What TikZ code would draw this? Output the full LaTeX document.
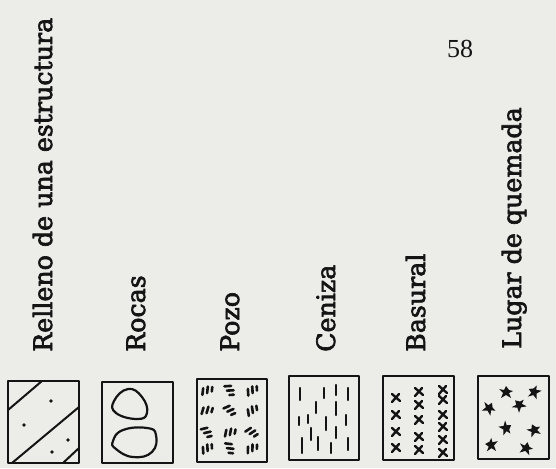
\documentclass[tikz,border=0pt]{standalone}
\usepackage{fontspec}
\setmainfont{DejaVu Serif}[FakeBold=2.6]
\newfontfamily\numfont{Liberation Serif}
\usetikzlibrary{calc}
\definecolor{paper}{RGB}{236,236,233}
\definecolor{ink}{RGB}{20,20,20}

\begin{document}
\begin{tikzpicture}[x=1pt, y=-1pt, line join=round, line cap=round,
  legbox/.style={draw=ink, line width=2.4pt},
  hatch/.style={draw=ink, line width=2pt},
  lbl/.style={rotate=90, anchor=base west, inner sep=0pt, font=\fontsize{25.3}{30}\selectfont, text=ink}]
  % paper
  \fill[paper] (0,0) rectangle (556,468);
  \useasboundingbox (0,0) rectangle (556,468);

  % labels
  \node[lbl] (lrell) at (52,352) {Relleno de una estructura};
  \node[lbl] (lroc) at (145,352) {Rocas};
  \node[lbl] (lpozo) at (239,352) {Pozo};
  \node[lbl] (lcen) at (335,352) {Ceniza};
  \node[lbl] (lbas) at (425,352) {Basural};
  \node[lbl] (llug) at (521,349) {Lugar de quemada};
  \node[font=\numfont\fontsize{26}{30}\selectfont, text=ink, inner sep=0pt] (pnum) at (460,49) {58};

  % relleno
  \begin{scope}[shift={(8,381)}]
    \draw[legbox] (0,0) rectangle (71,82);
    \draw[hatch] (0,29) -- (34,0) (4,82) -- (71,26) (55,82) -- (71,67);
    \foreach \x/\y in {43/20, 16/44, 60/59, 44/71}
      \fill[ink] (\x,\y) circle (1.8);
  \end{scope}

  % rocas
  \begin{scope}[shift={(102,382)}]
    \draw[legbox] (0,0) rectangle (71,81);
    \draw[hatch, line width=2.2pt] plot[smooth cycle, tension=0.8] coordinates {(26,7) (12,19) (14,31) (35,37) (45,31) (40,15)};
    \draw[hatch, line width=2.2pt] plot[smooth cycle, tension=0.8] coordinates {(11,59) (21,48) (45,46) (54,53) (50,70) (31,75) (14,67)};
  \end{scope}

  % pozo
  \begin{scope}[shift={(197,379)}]
    \draw[legbox] (0,0) rectangle (70,83);
    \foreach \x/\y/\a in {10/11/20, 33/11/-60, 55/11/30, 10/31/10, 33/31/-40, 55/31/35,
                          10/53/-50, 33/53/15, 55/53/-30, 10/69/30, 33/69/-70, 55/69/25} {
      \begin{scope}[shift={(\x,\y)}, rotate=\a]
        \draw[hatch, line width=2.6pt] (-6,3) -- (-3,-3) (-1,3) -- (2,-3) (4,3) -- (6,-1);
      \end{scope}
    }
  \end{scope}

  % ceniza
  \begin{scope}[shift={(289,376)}]
    \draw[legbox] (0,0) rectangle (70,84);
    \foreach \x/\ya/\yb in {11/12/24, 35/12/22, 47/9/19, 59/12/24, 27/26/37, 47/26/39,
                            10/41/49, 19/39/47, 37/41/54, 57/39/49, 22/52/64, 47/51/62,
                            13/62/77, 29/61/74, 42/67/77, 59/62/74}
      \draw[hatch, line width=2.2pt] (\x,\ya) -- (\x,\yb);
  \end{scope}

  % basural
  \begin{scope}[shift={(383,376)}]
    \draw[legbox] (0,0) rectangle (71,84);
    \foreach \x/\y in {13/22, 13/39, 13/56, 13/72, 36/16, 36/29, 36/44, 36/61, 36/74,
                       60/14, 60/24, 60/39, 60/51, 60/64, 60/77}
      \draw[hatch, line width=2.4pt] (\x-4,\y-4) -- (\x+4,\y+3) (\x-4,\y+4) -- (\x+3,\y-4);
  \end{scope}

  % lugar de quemada
  \begin{scope}[shift={(478,376)}]
    \draw[legbox] (0,0) rectangle (71,83);
    \foreach \x/\y/\a in {28/16/0, 56/16/60, 11/32/-30, 41/29/40, 28/52/-60, 56/54/20, 13/69/80, 48/72/-15} {
      \begin{scope}[shift={(\x,\y)}, rotate=\a]
        \fill[ink] (-7,-3) -- (-2,-2) -- (0,-6) -- (3,-2) -- (7,-1) -- (3,1) -- (5,6) -- (0,3) -- (-5,6) -- (-3,1) -- cycle;
      \end{scope}
    }
  \end{scope}
\end{tikzpicture}
\end{document}
